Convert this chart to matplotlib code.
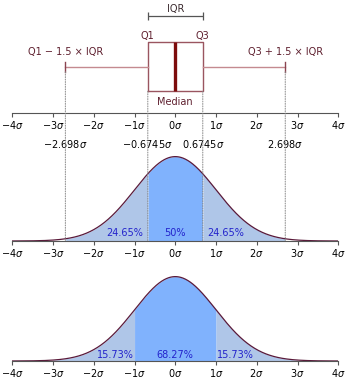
"""
Box plot of a standard normal distribution compared with its density.
"""

import numpy as np
import matplotlib
matplotlib.use("Agg")
import matplotlib.pyplot as plt
from matplotlib.patches import ConnectionPatch

# quartiles and whisker ends of N(0, 1), in units of sigma
q1, median, q3 = -0.6745, 0.0, 0.6745
whis_lo, whis_hi = -2.698, 2.698

tick_values = [-4, -3, -2, -1, 0, 1, 2, 3, 4]
tick_labels = [r"$-4\sigma$", r"$-3\sigma$", r"$-2\sigma$", r"$-1\sigma$", r"$0\sigma$",
               r"$1\sigma$", r"$2\sigma$", r"$3\sigma$", r"$4\sigma$"]

# shaded regions of the middle density plot and their share of the area
iqr_edges = [whis_lo, q1, q3, whis_hi]
iqr_shares = [24.65, 50, 24.65]
iqr_label_x = [-1.24, 0.0, 1.245]

# shaded regions of the bottom density plot
sigma_edges = [-3, -1, 1, 3]
sigma_shares = [15.73, 68.27, 15.73]
sigma_label_x = [-1.48, 0.0, 1.48]

maroon = "#5e1f2e"
light_blue = "#afc6e8"
bright_blue = "#80b2fd"
pct_blue = "#2323cc"
FS = 7


def pdf(x):
    return np.exp(-x ** 2 / 2) / np.sqrt(2 * np.pi)


def setup_axis(ax):
    ax.set_xlim(-4, 4)
    for side in ("top", "left", "right"):
        ax.spines[side].set_visible(False)
    ax.spines["bottom"].set_color("#555555")
    ax.spines["bottom"].set_linewidth(0.8)
    ax.set_yticks([])
    ax.set_xticks(tick_values)
    ax.set_xticklabels(tick_labels, fontsize=FS)
    ax.tick_params(axis="x", direction="out", length=3, width=0.8, color="#555555", pad=1.5)
    ax.patch.set_alpha(0)


W, H = 350, 382
fig = plt.figure(figsize=(W / 100, H / 100), dpi=100)
left, width = 12.3 / W, 326 / W

ax1 = fig.add_axes([left, 1 - 113 / H, width, 113 / H])
ax2 = fig.add_axes([left, 1 - 241 / H, width, 110 / H])
ax3 = fig.add_axes([left, 1 - 361 / H, width, 110 / H])
for ax in (ax1, ax2, ax3):
    setup_axis(ax)

# --- box plot ---
ax1.set_ylim(0, 113)
box_y, box_h = 46.2, 49
stats = [dict(med=median, q1=q1, q3=q3, whislo=whis_lo, whishi=whis_hi)]
ax1.bxp(stats, positions=[box_y], widths=box_h, capwidths=10, orientation="horizontal",
        showfliers=False, manage_ticks=False,
        boxprops=dict(color="#9a5560", linewidth=1),
        whiskerprops=dict(color="#c48a90", linewidth=1),
        capprops=dict(color="#8a4450", linewidth=1),
        medianprops=dict(color="#7d0c0c", linewidth=2.4))

# IQR bracket
ax1.hlines(97, q1, q3, color="#555555", lw=0.9)
ax1.vlines([q1, q3], 93, 101, color="#555555", lw=0.9)
ax1.text(median, 104, "IQR", ha="center", va="center", fontsize=FS, color="#3a2a2e")

ax1.text(q1, 77, "Q1", ha="center", va="center", fontsize=FS, color=maroon)
ax1.text(q3, 77, "Q3", ha="center", va="center", fontsize=FS, color=maroon)
ax1.text(whis_lo, 61, "Q1 \u2212 1.5 \u00d7 IQR", ha="center", va="center", fontsize=FS, color=maroon)
ax1.text(whis_hi, 61, "Q3 + 1.5 \u00d7 IQR", ha="center", va="center", fontsize=FS, color=maroon)
ax1.text(median, 11, "Median", ha="center", va="center", fontsize=FS, color=maroon)

# --- density with IQR regions ---
x = np.linspace(-4, 4, 801)
y = pdf(x)
ymax = 0.52
for ax, edges in ((ax2, iqr_edges), (ax3, sigma_edges)):
    ax.set_ylim(0, ymax)
    for i in range(3):
        m = (x >= edges[i]) & (x <= edges[i + 1])
        ax.fill_between(x[m], 0, y[m], color=bright_blue if i == 1 else light_blue,
                        linewidth=0)
    ax.plot(x, y, color="#5a1a3a", lw=0.9)

for xv, share in zip(iqr_label_x, iqr_shares):
    ax2.text(xv, 0.037, f"{share:g}%", ha="center", va="center", fontsize=FS, color=pct_blue)
for xv, share in zip(sigma_label_x, sigma_shares):
    ax3.text(xv, 0.028, f"{share:g}%", ha="center", va="center", fontsize=FS, color=pct_blue)

for xv in iqr_edges:
    ax2.text(xv, 0.458, rf"${xv:g}\sigma$", ha="center", va="center", fontsize=FS)

# dotted guides from the box plot down to the density axis
starts = [box_y - 5, box_y - box_h / 2, box_y - box_h / 2, box_y - 5]
for xv, ys in zip(iqr_edges, starts):
    con = ConnectionPatch(xyA=(xv, ys), coordsA=ax1.transData,
                          xyB=(xv, 0), coordsB=ax2.transData,
                          linestyle=(0, (1, 1.5)), color="#888888", lw=0.7)
    fig.add_artist(con)

fig.savefig("out.png", dpi=100)
